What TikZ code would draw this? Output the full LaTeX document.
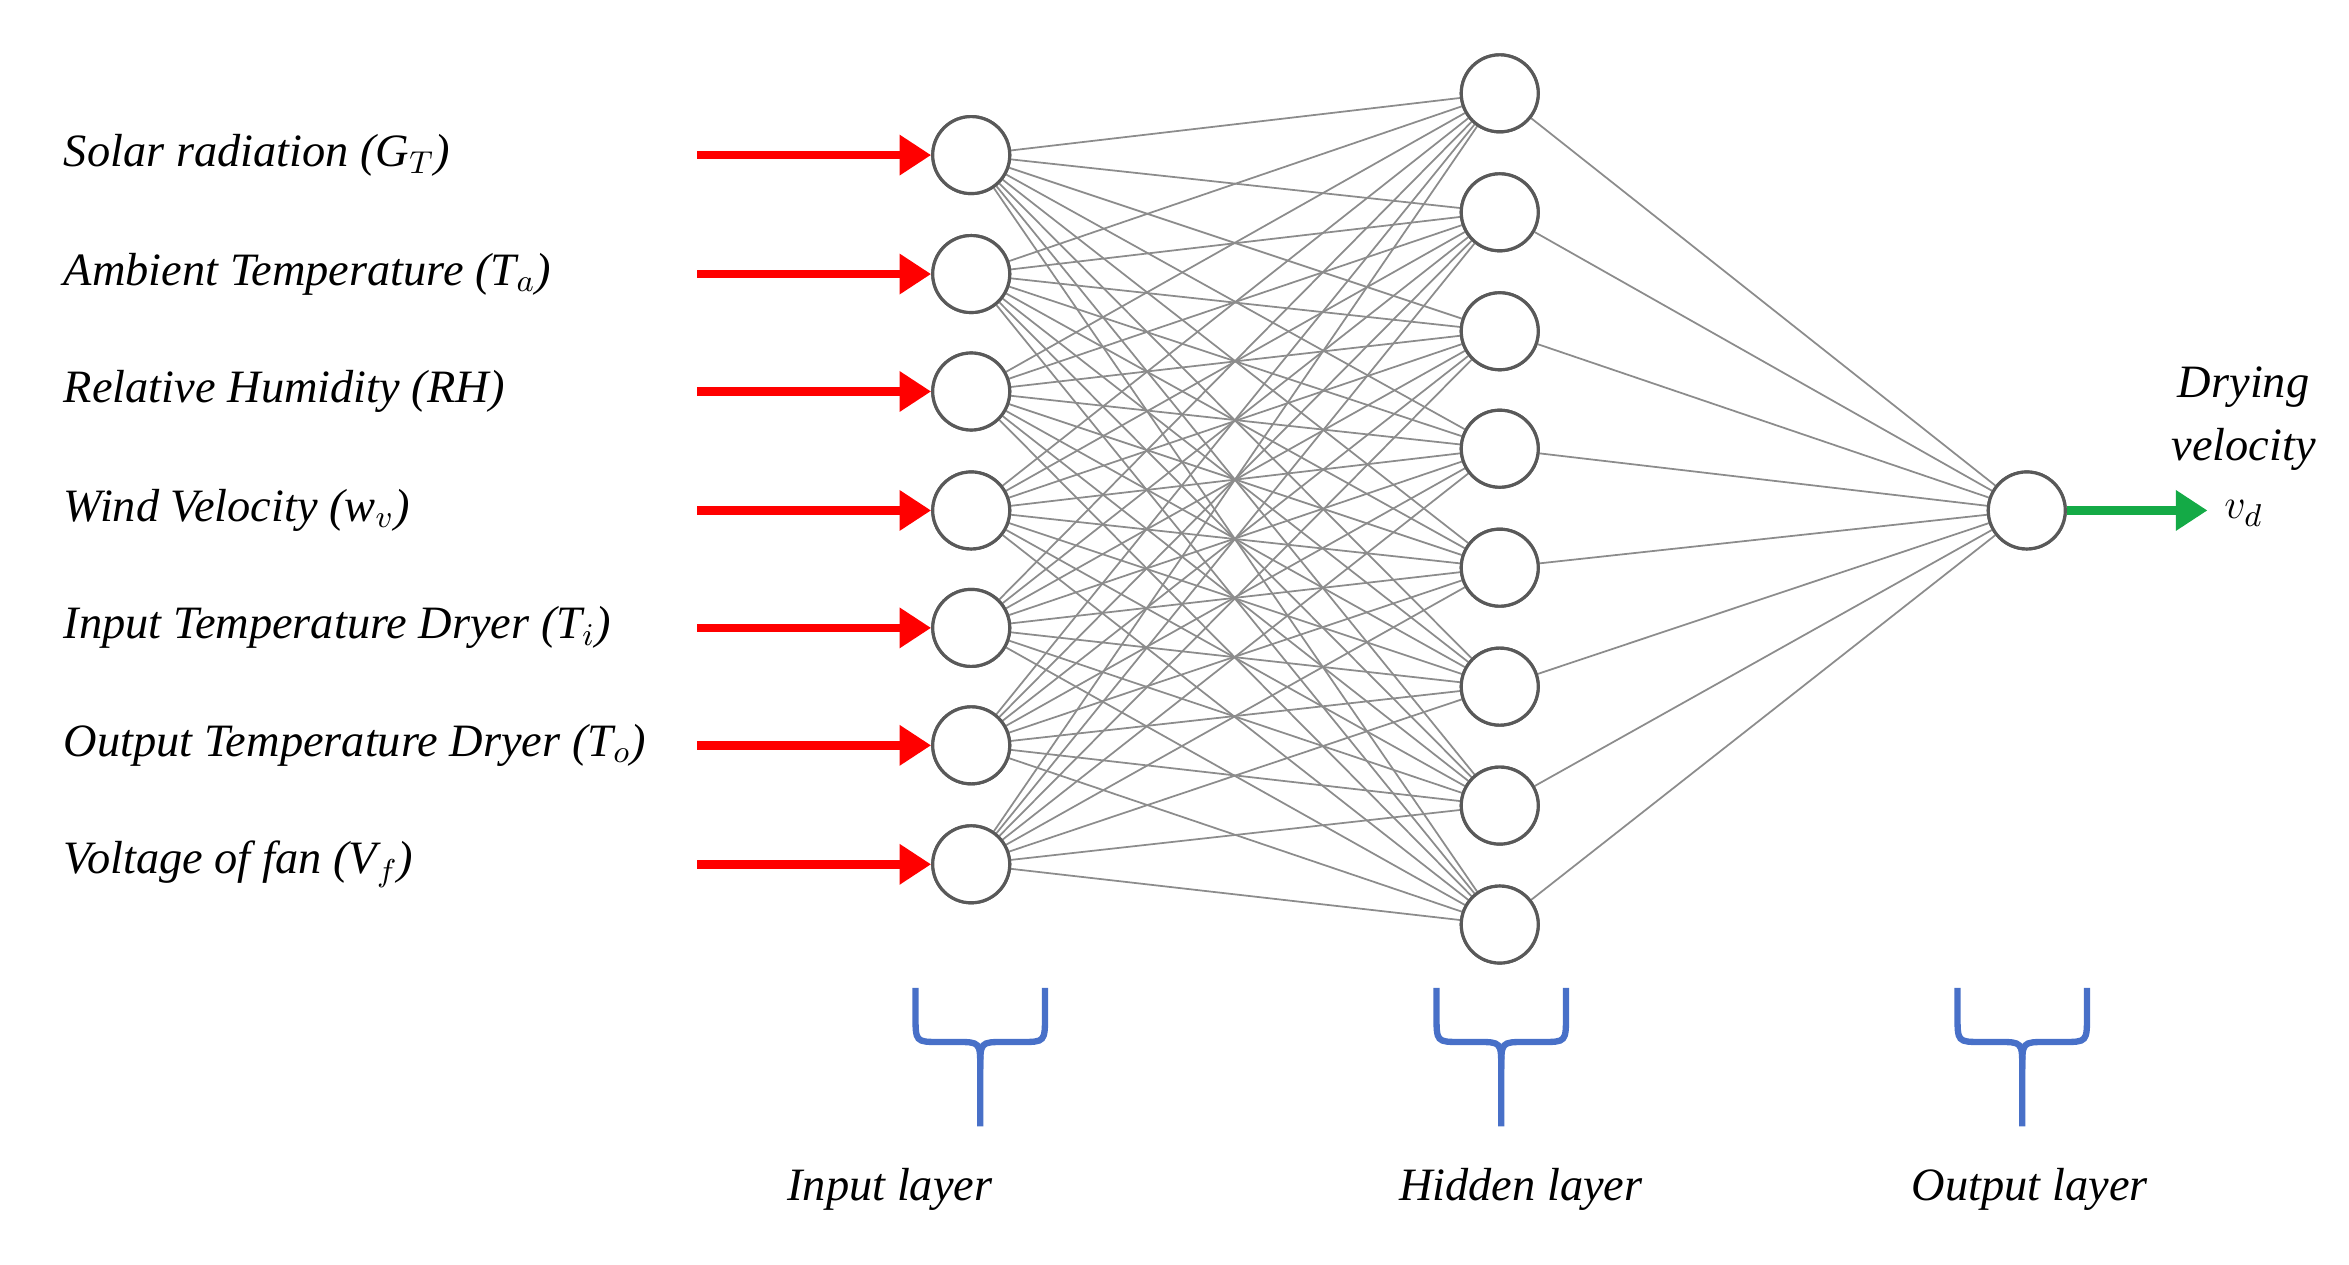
\documentclass[tikz,border=0pt]{standalone}
\usepackage{fontspec}
\setmainfont{Liberation Serif}
\usetikzlibrary{arrows.meta}
\definecolor{brc}{RGB}{72,112,200}
\definecolor{grn}{RGB}{20,170,70}
\begin{document}
\begin{tikzpicture}[x=0.01506cm,y=-0.01506cm,
  neuron/.style={circle,draw=black!65,line width=0.9pt,minimum size=0.77cm,inner sep=0pt,fill=white},
  conn/.style={draw=black!45,line width=0.5pt},
  inarrow/.style={draw=red,line width=2.4pt,-{Triangle[length=9pt,width=11pt]}},
  outarrow/.style={draw=grn,line width=2.4pt,-{Triangle[length=9pt,width=11pt]}},
  lab/.style={font=\fontsize{13.2}{15}\selectfont\itshape,inner sep=0pt},
  brace/.style={draw=brc,line width=1.8pt}]
\useasboundingbox (0,0) rectangle (1560,840);
% nodes
\foreach \i/\y in {1/103,2/182,3/260,4/339,5/417,6/495,7/574}
  \node[neuron] (in\i) at (645,\y) {};
\foreach \j/\y in {1/62,2/141,3/220,4/298,5/377,6/456,7/535,8/614}
  \node[neuron] (h\j) at (996,\y) {};
\node[neuron] (out) at (1346,339) {};
% connections
\foreach \i in {1,...,7}
  \foreach \j in {1,...,8}
    \draw[conn] (in\i) -- (h\j);
\foreach \j in {1,...,8}
  \draw[conn] (h\j) -- (out);
% redraw nodes on top
\foreach \i/\y in {1/103,2/182,3/260,4/339,5/417,6/495,7/574}
  \node[neuron] at (645,\y) {};
\foreach \j/\y in {1/62,2/141,3/220,4/298,5/377,6/456,7/535,8/614}
  \node[neuron] at (996,\y) {};
\node[neuron] at (1346,339) {};
% input labels and arrows
\foreach \i/\y/\t in {1/103/{Solar radiation (G$_{T}$)},2/182/{Ambient Temperature (T$_{a}$)},3/260/{Relative Humidity (RH)},4/339/{Wind Velocity (w$_{v}$)},5/417/{Input Temperature Dryer (T$_{i}$)},6/495/{Output Temperature Dryer (T$_{o}$)},7/574/{Voltage of fan (V$_{f}$)}}{
  \node[lab,anchor=west] (l\i) at (42,\y) {\t};
  \coordinate (s\i) at (463,\y);
  \draw[inarrow] (s\i) -- (in\i.west);
}
% output
\coordinate (oe) at (1466,339);
\draw[outarrow] (out.east) -- (oe);
\node[lab,align=center] (dv) at (1490,278) {Drying\\[3pt]velocity};
\node[lab] (vd) at (1490,341) {$v_{d}$};
% braces
\foreach \n/\c in {bi/651,bh/997,bo/1343}{
  \draw[brace] (\c-43,656) -- (\c-43,674) .. controls (\c-43,692) .. (\c-27,692)
     -- (\c-16,692) .. controls (\c,692) .. (\c,710) -- (\c,748);
  \draw[brace] (\c+43,656) -- (\c+43,674) .. controls (\c+43,692) .. (\c+27,692)
     -- (\c+16,692) .. controls (\c,692) .. (\c,710);
}
\node[lab] (li) at (591,790) {Input layer};
\node[lab] (lh) at (1010,790) {Hidden layer};
\node[lab] (lo) at (1348,790) {Output layer};
\end{tikzpicture}
\end{document}
